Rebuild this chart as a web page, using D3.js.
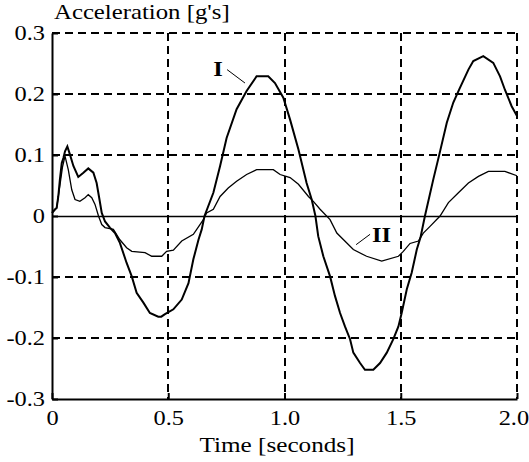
<!DOCTYPE html>
<meta charset="utf-8">
<title>acceleration</title>
<style>
    body { margin: 0; background: #fff; }
    svg { display: block; }
    text { font-family: "Liberation Serif", "Times New Roman", serif; fill: #000; }
</style>
<body>
<div id="chart"></div>
<script src="https://d3js.org/d3.v7.min.js"></script>
<script>
    var width = 529;
    var height = 462;

    // ticks
    var xTicks = [0, 0.5, 1.0, 1.5, 2.0];
    var xTickLabels = ["0", "0.5", "1.0", "1.5", "2.0"];
    var yTicks = [0.3, 0.2, 0.1, 0, -0.1, -0.2, -0.3];
    var yTickLabels = ["0.3", "0.2", "0.1", "0", "-0.1", "-0.2", "-0.3"];

    // curve I
    var timeI = [0, 0.013, 0.020, 0.027, 0.034, 0.042, 0.049, 0.056, 0.066, 0.077, 0.092, 0.113,
        0.135, 0.156, 0.178, 0.192, 0.202, 0.214, 0.228, 0.249, 0.271, 0.292, 0.321, 0.343,
        0.364, 0.393, 0.421, 0.457, 0.470, 0.486, 0.522, 0.558, 0.587, 0.608, 0.630, 0.644,
        0.656, 0.694, 0.723, 0.751, 0.794, 0.837, 0.880, 0.930, 0.959, 0.995, 1.024, 1.060,
        1.095, 1.117, 1.133, 1.145, 1.167, 1.196, 1.217, 1.239, 1.260, 1.282, 1.296, 1.325,
        1.346, 1.382, 1.411, 1.440, 1.468, 1.490, 1.504, 1.526, 1.547, 1.569, 1.585, 1.604,
        1.640, 1.666, 1.698, 1.726, 1.752, 1.791, 1.812, 1.855, 1.898, 1.927, 1.948, 1.977, 2.0];
    var accelI = [0.005, 0.011, 0.013, 0.032, 0.060, 0.087, 0.095, 0.106, 0.114, 0.101, 0.082, 0.064,
        0.071, 0.078, 0.071, 0.054, 0.032, 0.005, -0.009, -0.019, -0.028, -0.044, -0.077, -0.099,
        -0.126, -0.142, -0.159, -0.165, -0.165, -0.161, -0.153, -0.137, -0.110, -0.071, -0.039, -0.022,
        0.0, 0.038, 0.082, 0.128, 0.175, 0.205, 0.229, 0.229, 0.218, 0.194, 0.158, 0.109,
        0.054, 0.027, 0.0, -0.033, -0.066, -0.099, -0.131, -0.159, -0.181, -0.202, -0.224, -0.241,
        -0.252, -0.252, -0.241, -0.224, -0.202, -0.181, -0.159, -0.120, -0.093, -0.055, -0.035, 0.0,
        0.060, 0.101, 0.153, 0.186, 0.208, 0.240, 0.254, 0.262, 0.251, 0.229, 0.207, 0.180, 0.164];

    // curve II
    var timeII = [0, 0.020, 0.034, 0.045, 0.056, 0.070, 0.085, 0.099, 0.120, 0.142, 0.156, 0.171,
        0.185, 0.200, 0.214, 0.228, 0.264, 0.292, 0.321, 0.343, 0.400, 0.429, 0.472, 0.493,
        0.522, 0.558, 0.608, 0.651, 0.665, 0.694, 0.723, 0.758, 0.794, 0.837, 0.880, 0.952,
        0.981, 1.024, 1.060, 1.103, 1.124, 1.153, 1.196, 1.225, 1.296, 1.353, 1.418, 1.490,
        1.511, 1.540, 1.576, 1.597, 1.626, 1.669, 1.705, 1.748, 1.791, 1.834, 1.877, 1.948, 2.0];
    var accelII = [0.005, 0.013, 0.050, 0.080, 0.098, 0.076, 0.043, 0.027, 0.024, 0.030, 0.035, 0.030,
        0.019, 0.0, -0.014, -0.019, -0.022, -0.039, -0.052, -0.058, -0.060, -0.066, -0.066, -0.058,
        -0.056, -0.041, -0.030, -0.006, 0.005, 0.011, 0.032, 0.046, 0.057, 0.068, 0.076, 0.076,
        0.068, 0.063, 0.052, 0.032, 0.024, 0.011, -0.006, -0.028, -0.055, -0.066, -0.074, -0.066,
        -0.058, -0.045, -0.041, -0.028, -0.017, 0.0, 0.022, 0.038, 0.054, 0.065, 0.073, 0.073, 0.066];

    // curve labels with leader lines, in data units
    var labelNames = ["I", "II"];
    var labelAt = [[0.714, 0.2295], [1.376, -0.042]];
    var labelAnchor = ["middle", "start"];
    var leaderFrom = [[0.753, 0.240], [1.368, -0.030]];
    var leaderTo = [[0.830, 0.218], [1.308, -0.047]];

    var x = d3.scaleLinear().domain([0, 2]).range([52, 517]);
    var y = d3.scaleLinear().domain([-0.3, 0.3]).range([399, 33]);

    var svg = d3.select("#chart").append("svg")
        .attr("width", width)
        .attr("height", height);

    svg.append("rect").attr("width", width).attr("height", height).attr("fill", "#fff");

    // dashed grid
    var grid = svg.append("g")
        .attr("stroke", "#000")
        .attr("stroke-width", 2)
        .attr("stroke-dasharray", "8,5");

    grid.selectAll(".vgrid")
        .data(xTicks.filter(d => d > 0))
        .enter().append("line")
        .attr("x1", d => Math.round(x(d)))
        .attr("x2", d => Math.round(x(d)))
        .attr("y1", y(0.3))
        .attr("y2", y(-0.3));

    grid.selectAll(".hgrid")
        .data(yTicks.filter(d => d !== 0 && d !== -0.3))
        .enter().append("line")
        .attr("x1", x(0))
        .attr("x2", x(2))
        .attr("y1", d => Math.round(y(d)))
        .attr("y2", d => Math.round(y(d)));

    // zero line
    svg.append("line")
        .attr("x1", x(0)).attr("x2", x(2))
        .attr("y1", Math.round(y(0)) + 0.5).attr("y2", Math.round(y(0)) + 0.5)
        .attr("stroke", "#000")
        .attr("stroke-width", 1.6);

    // axes
    var xAxis = d3.axisBottom(x)
        .tickValues(xTicks)
        .tickFormat((d, i) => xTickLabels[i])
        .tickSizeInner(-6)
        .tickSizeOuter(0)
        .tickPadding(11);

    var yAxis = d3.axisLeft(y)
        .tickValues(yTicks)
        .tickFormat((d, i) => yTickLabels[i])
        .tickSizeInner(-6)
        .tickSizeOuter(0)
        .tickPadding(6);

    var gx = svg.append("g")
        .attr("transform", "translate(0," + y(-0.3) + ")")
        .call(xAxis);

    var gy = svg.append("g")
        .attr("transform", "translate(" + x(0) + ",0)")
        .call(yAxis);

    [gx, gy].forEach(function(g) {
        g.select(".domain").attr("stroke", "#000").attr("stroke-width", 2);
        g.selectAll(".tick line").attr("stroke", "#000").attr("stroke-width", 2);
        g.selectAll(".tick text")
            .attr("font-family", null)
            .style("font-size", "21px")
            .attr("transform", "scale(1.16,1)");
    });

    // last x label sits against the right edge, as in the picture
    gx.selectAll(".tick text")
        .filter(d => d === 2)
        .attr("text-anchor", "end")
        .attr("x", 10);

    // curves
    var line = d3.line()
        .x(d => x(d[0]))
        .y(d => y(d[1]));

    svg.append("path")
        .datum(d3.zip(timeI, accelI))
        .attr("d", line)
        .attr("fill", "none")
        .attr("stroke", "#000")
        .attr("stroke-width", 2);

    svg.append("path")
        .datum(d3.zip(timeII, accelII))
        .attr("d", line)
        .attr("fill", "none")
        .attr("stroke", "#000")
        .attr("stroke-width", 1.3);

    // curve labels
    labelNames.forEach(function(name, i) {
        svg.append("line")
            .attr("x1", x(leaderFrom[i][0])).attr("y1", y(leaderFrom[i][1]))
            .attr("x2", x(leaderTo[i][0])).attr("y2", y(leaderTo[i][1]))
            .attr("stroke", "#000")
            .attr("stroke-width", 1);
        svg.append("text")
            .attr("transform", "translate(" + x(labelAt[i][0]) + "," + y(labelAt[i][1]) + ") scale(1.12,1)")
            .attr("text-anchor", labelAnchor[i])
            .style("font-size", "22px")
            .style("font-weight", "bold")
            .text(name);
    });

    // axis titles
    svg.append("text")
        .attr("transform", "translate(54,19) scale(1.18,1)")
        .style("font-size", "21px")
        .text("Acceleration [g's]");

    svg.append("text")
        .attr("transform", "translate(277,452) scale(1.2,1)")
        .attr("text-anchor", "middle")
        .style("font-size", "21px")
        .text("Time [seconds]");
</script>
</body>
